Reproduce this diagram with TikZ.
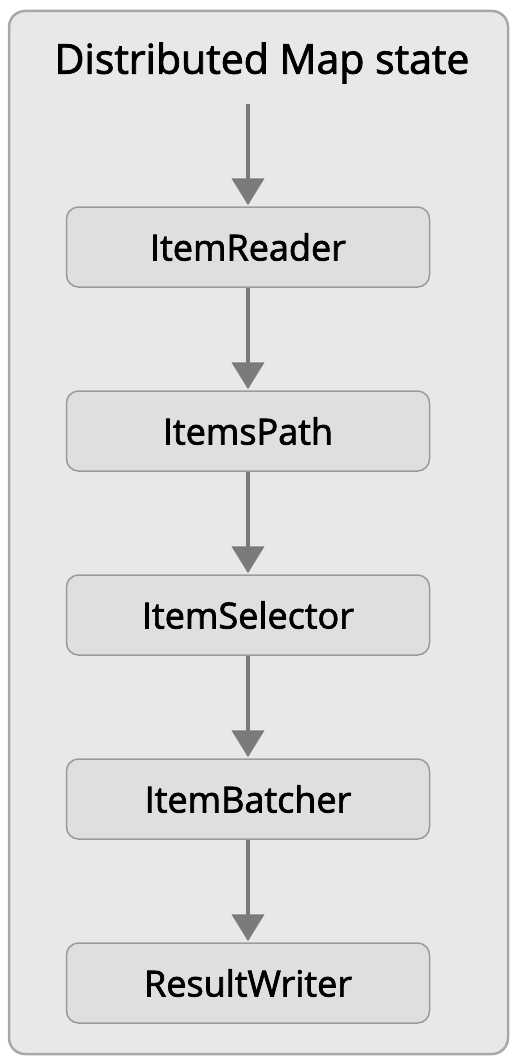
\documentclass[tikz,border=0pt]{standalone}
\usepackage{fontspec}
\setmainfont{Open Sans}
\newfontfamily\labelfont[FakeBold=2]{Open Sans}
\usetikzlibrary{arrows.meta}
\definecolor{outerfill}{HTML}{E8E8E8}
\definecolor{outerline}{HTML}{A8A8A8}
\definecolor{boxfill}{HTML}{DFDFDF}
\definecolor{boxline}{HTML}{9A9A9A}
\definecolor{arrowgray}{HTML}{7A7A7A}

\begin{document}
\begin{tikzpicture}[x=1pt, y=-1pt,
        box/.style={rectangle, rounded corners=12pt, draw=boxline, line width=1.5pt, fill=boxfill, minimum width=363pt, minimum height=80pt, align=center, font=\labelfont\fontsize{36}{40}\selectfont},
        arrow/.style={-{Triangle[width=32pt,length=27pt]}, draw=arrowgray, line width=4.5pt, shorten >=1pt}
    ]
        \useasboundingbox (0,0) rectangle (510,1057);
        % Outer frame
        \draw[outerline, fill=outerfill, line width=2.5pt, rounded corners=16pt] (9,11) rectangle (508,1054);
        \node[font=\labelfont\fontsize{41}{48}\selectfont] (title) at (262,63) {Distributed Map state};
        \coordinate (start) at (248,104);

        % Steps
        \node[box] (reader) at (248,247) {ItemReader};
        \node[box] (path) at (248,431) {ItemsPath};
        \node[box] (selector) at (248,615) {ItemSelector};
        \node[box] (batcher) at (248,799) {ItemBatcher};
        \node[box] (writer) at (248,983) {ResultWriter};

        % Arrows
        \draw[arrow] (start) -- (reader);
        \draw[arrow] (reader) -- (path);
        \draw[arrow] (path) -- (selector);
        \draw[arrow] (selector) -- (batcher);
        \draw[arrow] (batcher) -- (writer);
    \end{tikzpicture}
\end{document}
